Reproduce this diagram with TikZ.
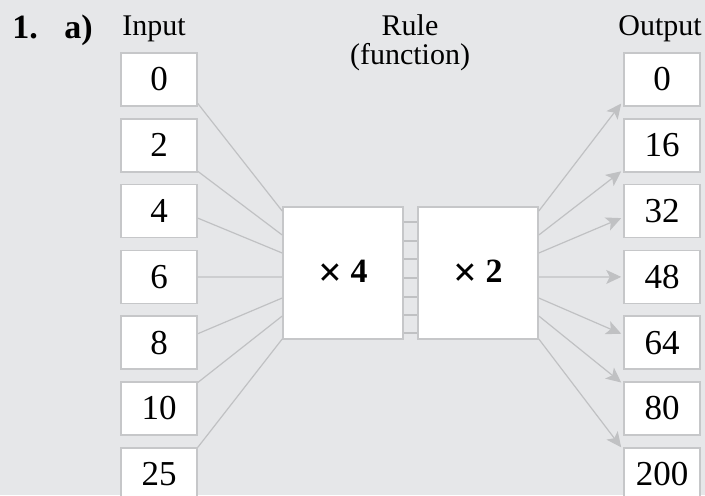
\documentclass[tikz,border=0pt]{standalone}
\usepackage{fontspec}
\setmainfont{Liberation Serif}
\usetikzlibrary{calc,arrows.meta}
\definecolor{bggray}{HTML}{E6E7E9}
\definecolor{edgegray}{HTML}{C6C7C9}
\definecolor{wiregray}{HTML}{C0C1C3}
\newcommand\timessign{\raisebox{-2pt}{\fontsize{21}{20}\selectfont ×}}
\tikzset{
  numbox/.style={draw=edgegray, fill=white, line width=0.8pt, inner sep=0pt,
    minimum width=38pt, minimum height=26.5pt, font=\fontsize{17.5}{20}\selectfont},
  rulebox/.style={numbox, minimum width=60pt, minimum height=66pt,
    font=\fontsize{17}{20}\selectfont\bfseries},
  headtext/.style={inner sep=0pt, anchor=base, font=\fontsize{15}{18}\selectfont},
  parttext/.style={inner sep=0pt, anchor=base west, font=\fontsize{17}{20}\selectfont\bfseries},
  wire/.style={draw=wiregray, line width=0.6pt},
  toarrow/.style={wire, -{Stealth[length=7.5pt,width=7pt,inset=1.8pt]}}
}
\begin{document}
\begin{tikzpicture}[x=0.5pt, y=-0.5pt]
  \path[use as bounding box, fill=bggray] (0,0) rectangle (705,495);
  % labels
  \node[parttext] (qnum) at (12,38) {1.};
  \node[parttext] (qpart) at (64,38) {a)};
  \node[headtext] (inhead) at (154,35) {Input};
  \node[headtext] (rulehead) at (410,35) {Rule};
  \node[headtext] (rulesub) at (410,64) {(function)};
  \node[headtext] (outhead) at (660,35) {Output};
  % rule boxes
  \node[rulebox] (times4) at (343,273) {\raisebox{-3.5pt}{\timessign\ 4}};
  \node[rulebox] (times2) at (478,273) {\raisebox{-3.5pt}{\timessign\ 2}};
  \foreach \dy in {-51,-32,-14,5,24,42,60}
    \draw[wire] ($(times4.east)+(0,\dy)$) -- ($(times2.west)+(0,\dy)$);
  % inputs and outputs
  \foreach \val/\res/\off/\ey [count=\i from 0] in
      {0/0/24/-62, 2/16/26/-38, 4/32/7/-20, 6/48/0/4,
       8/64/-9/25, 10/80/-26/43, 25/200/-27/66} {
    \node[numbox] (in\i) at (159,79.5+65.8*\i) {\val};
    \node[numbox] (out\i) at (662,79.5+65.8*\i) {\res};
    \coordinate (s\i) at ($(in\i.east)+(0,\off)$);
    \coordinate (l\i) at ($(times4.west)+(0,\ey)$);
    \coordinate (r\i) at ($(times2.east)+(0,\ey)$);
    \coordinate (t\i) at ($(out\i.west)+(-2,\off)$);
    \draw[wire] (s\i) -- (l\i);
    \draw[toarrow] (r\i) -- (t\i);
  }
\end{tikzpicture}
\end{document}
